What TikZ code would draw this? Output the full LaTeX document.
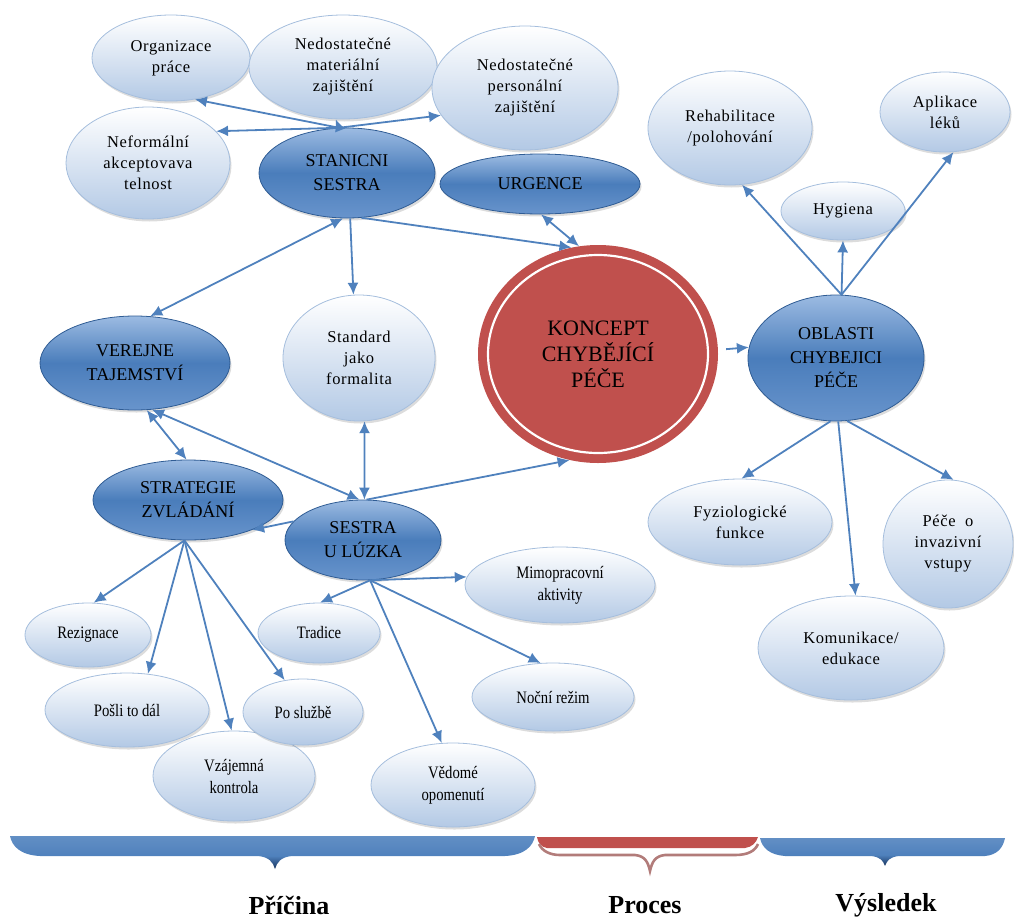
\documentclass[tikz,border=0pt]{standalone}
\usepackage{fontspec}
\setmainfont{Liberation Serif}
\newfontfamily\spacedfont[LetterSpace=4]{Liberation Serif}
\newfontfamily\narrowfont[FakeStretch=0.84]{Liberation Serif}
\usetikzlibrary{shapes.geometric,shadows,arrows.meta}

\definecolor{edgeblue}{HTML}{4F81BD}
\definecolor{paleblue}{HTML}{B3C9E5}
\definecolor{rimblue}{HTML}{A5BEDD}
\definecolor{deepblue}{HTML}{4A7DBB}
\definecolor{lightkey}{HTML}{9CBBE2}
\definecolor{lowkey}{HTML}{6894CC}
\definecolor{darkrim}{HTML}{2F5C94}
\definecolor{conceptred}{HTML}{C0504D}
\definecolor{braceblue}{HTML}{4F81BD}
\definecolor{bracedark}{HTML}{1F3F6B}
\definecolor{bracelight}{HTML}{B4CCEA}
\definecolor{redrim}{HTML}{B27C7A}

% band of a phase brace: light rim on top, blue body, dark lower edge
\pgfdeclareverticalshading{bracefill}{100bp}{%
  color(0bp)=(bracedark); color(28bp)=(bracedark);
  color(45bp)=(braceblue); color(86bp)=(braceblue!85!white);
  color(100bp)=(bracelight)}

\tikzset{
  softshadow/.style={drop shadow={opacity=0.28, shadow xshift=1.5pt, shadow yshift=-2.5pt}},
  bubble/.style={ellipse, inner sep=0pt, draw=rimblue, line width=0.8pt,
    top color=white, bottom color=paleblue, softshadow, align=center,
    font=\spacedfont\fontsize{16.5}{21}\selectfont},
  smallbubble/.style={bubble, font=\narrowfont\fontsize{17.5}{22}\selectfont},
  keybubble/.style={ellipse, inner sep=0pt, draw=darkrim, line width=0.8pt,
    top color=lightkey, bottom color=lowkey, middle color=deepblue, softshadow,
    align=center, font=\fontsize{18}{24}\selectfont},
  conceptnode/.style={ellipse, inner sep=0pt, fill=conceptred, align=center,
    font=\fontsize{22}{26}\selectfont},
  arr/.style={draw=edgeblue, line width=1.8pt, -{Latex[length=12pt,width=11pt]}},
  dbl/.style={draw=edgeblue, line width=1.8pt, {Latex[length=12pt,width=11pt]}-{Latex[length=12pt,width=11pt]}},
  bluebrace/.style={shading=bracefill},
  phase/.style={font=\bfseries\fontsize{26}{30}\selectfont}
}

\begin{document}
\begin{tikzpicture}[x=1pt, y=-1pt]
\path[use as bounding box] (0,0) rectangle (1014,921);

% --- causes around the ward sister ---
\node[bubble, minimum width=158pt, minimum height=86pt]  (org) at (171,58)  {Organizace\\práce};
\node[bubble, minimum width=188pt, minimum height=104pt] (mat) at (343,67)  {Nedostatečné\\materiální\\zajištění};
\node[bubble, minimum width=186pt, minimum height=124pt] (per) at (525,88)  {Nedostatečné\\personální\\zajištění};
\node[bubble, minimum width=164pt, minimum height=112pt] (nef) at (148,163) {Neformální\\akceptovava\\telnost};
\node[keybubble, minimum width=176pt, minimum height=90pt] (sst) at (347,173) {STANICNI\\SESTRA};
\node[keybubble, minimum width=200pt, minimum height=60pt] (urg) at (540,184) {URGENCE};

% --- middle row ---
\node[keybubble, minimum width=190pt, minimum height=94pt] (ver) at (135,363) {VEREJNE\\TAJEMSTVÍ};
\node[bubble, minimum width=152pt, minimum height=126pt] (std) at (359,358) {Standard\\jako\\formalita};
\node[keybubble, minimum width=190pt, minimum height=80pt] (str) at (188,500) {STRATEGIE\\ZVLÁDÁNÍ};
\node[keybubble, minimum width=156pt, minimum height=80pt] (ses) at (363,540) {SESTRA\\U LÚZKA};

% --- central concept ---
\node[conceptnode, minimum width=240pt, minimum height=218pt] (kon) at (598,354) {KONCEPT\\CHYBĚJÍCÍ\\PÉČE};
\draw[white, line width=2.2pt] (kon.center) ellipse [x radius=110, y radius=99];

% --- outcome areas ---
\node[keybubble, minimum width=176pt, minimum height=126pt] (obl) at (836,358) {OBLASTI\\CHYBEJICI\\PÉČE};
\node[bubble, minimum width=164pt, minimum height=114pt] (reh) at (730,128) {Rehabilitace\\/polohování};
\node[bubble, minimum width=130pt, minimum height=80pt]  (apl) at (945,112) {Aplikace\\léků};
\node[bubble, minimum width=124pt, minimum height=58pt]  (hyg) at (843,211) {Hygiena};
\node[bubble, minimum width=184pt, minimum height=86pt]  (fyz) at (740,522) {Fyziologické\\funkce};
\node[bubble, minimum width=130pt, minimum height=128pt] (pec) at (948,544) {Péče~~o\\invazivní\\vstupy};
\node[bubble, minimum width=186pt, minimum height=104pt] (kom) at (851,648) {Komunikace/\\edukace};

% --- coping strategies and bedside causes ---
\node[smallbubble, minimum width=126pt, minimum height=64pt] (rez) at (88,635)  {Rezignace};
\node[smallbubble, minimum width=164pt, minimum height=74pt] (pos) at (127,710) {Pošli to dál};
\node[smallbubble, minimum width=162pt, minimum height=90pt] (vza) at (234,776) {Vzájemná\\kontrola};
\node[smallbubble, minimum width=120pt, minimum height=66pt] (pol) at (303,712) {Po službě};
\node[smallbubble, minimum width=122pt, minimum height=60pt] (tra) at (319,633) {Tradice};
\node[smallbubble, minimum width=164pt, minimum height=84pt] (ved) at (453,785) {Vědomé\\opomenutí};
\node[smallbubble, minimum width=162pt, minimum height=68pt] (noc) at (553,697) {Noční režim};
\node[smallbubble, minimum width=190pt, minimum height=76pt] (mim) at (560,585) {Mimopracovní\\aktivity};

% --- connectors from the ward sister ---
\draw[arr] (sst.100) -- (org.-60);
\draw[arr] (sst.100) -- (mat.-98);
\draw[arr] (sst.100) -- (per.198);
\draw[arr] (sst.100) -- (nef.25);
\draw[dbl] (sst.-95) -- (ver.72);
\draw[arr] (sst.-86) -- (std.95);
\draw[arr] (sst.-72) -- (kon.104);
\draw[dbl] (urg.-88) -- (kon.100);

% --- middle connectors ---
\draw[dbl] (ver.-76) -- (str.92);
\draw[dbl] (ver.-70) -- (ses.95);
\draw[dbl] (std.-85) -- (ses.88);
\draw[arr] (ses.85) -- (kon.-105);
\draw[arr] (ses.165) -- (str.-25);

% --- coping strategies ---
\draw[arr] (str.-95) -- (rez.80);
\draw[arr] (str.-95) -- (pos.60);
\draw[arr] (str.-95) -- (vza.93);
\draw[arr] (str.-95) -- (pol.120);

% --- bedside causes ---
\draw[arr] (ses.-80) -- (tra.88);
\draw[arr] (ses.-80) -- (mim.175);
\draw[arr] (ses.-80) -- (noc.110);
\draw[arr] (ses.-80) -- (ved.105);

% --- outcome connectors ---
\draw[arr, shorten <=8pt] (kon.2) -- (obl.173);
\draw[arr] (obl.85) -- (reh.-78);
\draw[arr] (obl.85) -- (hyg.-90);
\draw[arr] (obl.85) -- (apl.-78);
\draw[arr] (obl.-95) -- (fyz.88);
\draw[arr] (obl.-88) -- (kom.85);
\draw[arr] (obl.-80) -- (pec.85);

% --- phase braces ---
\shade[bluebrace]
  (10,836) -- (535,836) .. controls (533,846) and (525,855) .. (505,856)
  -- (292,856) .. controls (281,857) and (277,862) .. (275,869)
  .. controls (273,862) and (269,857) .. (258,856)
  -- (40,856) .. controls (20,855) and (12,846) .. (10,836) -- cycle;
\fill[conceptred] (537,837) -- (758,837) .. controls (756,843) and (752,847) .. (745,848)
  -- (547,848) .. controls (541,847) and (538,843) .. (537,837) -- cycle;
\draw[redrim, line width=2.6pt] (539,844) .. controls (542,851) and (550,855) .. (560,855)
  -- (635,855) .. controls (645,856) and (648,862) .. (650,871)
  .. controls (652,862) and (655,856) .. (665,855)
  -- (735,855) .. controls (748,855) and (755,851) .. (758,844);
\shade[bluebrace]
  (760,838) -- (1005,838) .. controls (1003,848) and (997,855) .. (985,856)
  -- (899,856) .. controls (889,857) and (887,861) .. (885,866)
  .. controls (883,861) and (881,857) .. (871,856)
  -- (785,856) .. controls (770,855) and (762,848) .. (760,838) -- cycle;

% --- phase labels ---
\node[phase] (cause)   at (289,905) {Příčina};
\node[phase] (process) at (645,905) {Proces};
\node[phase] (result)  at (886,905) {Výsledek};
\end{tikzpicture}
\end{document}
